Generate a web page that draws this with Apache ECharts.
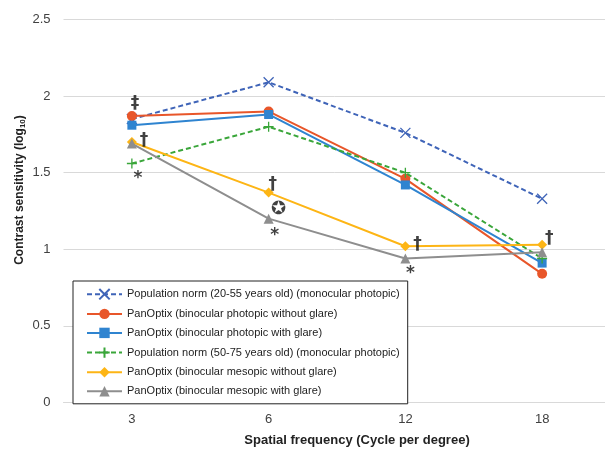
<!DOCTYPE html>
<html>
<head>
<meta charset="utf-8">
<script src="https://cdn.jsdelivr.net/npm/echarts@6/dist/echarts.min.js"></script>
<style>html,body{margin:0;padding:0;background:#fff;}#c{width:605px;height:452px;}</style>
</head>
<body>
<div id="c"></div>
<script>
const categories = ['3', '6', '12', '18'];
const yTicks = [0, 0.5, 1, 1.5, 2, 2.5];

const seriesNames = [
  'Population norm (20-55 years old) (monocular photopic)',
  'PanOptix (binocular photopic without glare)',
  'PanOptix (binocular photopic with glare)',
  'Population norm (50-75 years old) (monocular photopic)',
  'PanOptix (binocular mesopic without glare)',
  'PanOptix (binocular mesopic with glare)'
];
const normYoung = [1.85, 2.09, 1.76, 1.33];
const photopicNoGlare = [1.87, 1.90, 1.46, 0.84];
const photopicGlare = [1.81, 1.88, 1.42, 0.91];
const normOld = [1.56, 1.80, 1.50, 0.94];
const mesopicNoGlare = [1.70, 1.37, 1.02, 1.03];
const mesopicGlare = [1.69, 1.20, 0.94, 0.98];

// annotation marks: [category, value, text]
const annotations = [
  ['3', 1.95, '\u2021'],
  ['3', 1.71, '\u2020'],
  ['3', 1.46, '*'],
  ['6', 1.42, '\u2020'],
  ['6', 1.26, '\u272A'],
  ['6', 1.09, '*'],
  ['12', 1.03, '\u2020'],
  ['12', 0.84, '*'],
  ['18', 1.07, '\u2020']
];
const annotationDx = [3, 12, 6, 4, 10, 6, 12, 5, 7];

const colors = ['#3F64B8', '#E8562A', '#2F84D0', '#3AA63A', '#FDB515', '#8E8E8E'];
const crossPath = 'path://M0,0L10,10M10,0L0,10';
const plusPath = 'path://M5,0L5,10M0,5L10,5';

const defs = [
  {data: normYoung, symbol: crossPath, size: 10, dashed: true, stroke: true},
  {data: photopicNoGlare, symbol: 'circle', size: 10},
  {data: photopicGlare, symbol: 'rect', size: 9},
  {data: normOld, symbol: plusPath, size: 10, dashed: true, stroke: true},
  {data: mesopicNoGlare, symbol: 'diamond', size: 10},
  {data: mesopicGlare, symbol: 'triangle', size: 10}
];

const series = defs.map((d, i) => ({
  name: seriesNames[i],
  type: 'line',
  data: d.data,
  symbol: d.symbol,
  symbolSize: d.size,
  showSymbol: true,
  lineStyle: {color: colors[i], width: 2, type: d.dashed ? [5, 3] : 'solid'},
  itemStyle: d.stroke
    ? {color: colors[i], borderColor: colors[i], borderWidth: 1.3}
    : {color: colors[i], borderWidth: 0},
  z: 3 + i
}));

series.push({
  name: 'annotations',
  type: 'scatter',
  data: annotations.map((a, i) => ({
    value: [a[0], a[1]],
    label: {formatter: a[2], offset: [annotationDx[i], 0],
      fontSize: a[2] === '\u272A' ? 18 : 17}
  })),
  symbolSize: 1,
  itemStyle: {color: 'rgba(0,0,0,0)'},
  label: {show: true, position: 'inside', color: '#111', fontFamily: 'DejaVu Sans', fontWeight: 'bold'},
  silent: true,
  z: 20
});

const chart = echarts.init(document.getElementById('c'), null, {renderer: 'canvas'});
chart.setOption({
  animation: false,
  backgroundColor: '#fff',
  grid: {left: 63.5, width: 547, top: 19.5, bottom: 49.5, outerBoundsMode: 'none', containLabel: false},
  xAxis: {
    type: 'category',
    data: categories,
    boundaryGap: true,
    axisLine: {show: true, lineStyle: {color: '#d9d9d9', width: 1}},
    axisTick: {show: false},
    axisLabel: {color: '#404040', fontSize: 13, fontFamily: 'Liberation Sans', margin: 10}
  },
  yAxis: {
    type: 'value',
    min: yTicks[0],
    max: yTicks[yTicks.length - 1],
    interval: 0.5,
    axisLine: {show: false},
    axisTick: {show: false},
    splitLine: {lineStyle: {color: '#d9d9d9', width: 1}},
    axisLabel: {color: '#404040', fontSize: 13, fontFamily: 'Liberation Sans', margin: 13}
  },
  legend: {
    data: seriesNames,
    orient: 'vertical',
    left: 73,
    top: 281,
    padding: [7, 8, 7, 13],
    itemGap: 8,
    itemWidth: 35,
    itemHeight: 13,
    backgroundColor: '#fff',
    borderColor: '#222',
    borderWidth: 1,
    textStyle: {fontSize: 11, color: '#222', fontFamily: 'Liberation Sans'}
  },
  graphic: [
    {
      type: 'text',
      x: 20, y: 190,
      rotation: Math.PI / 2,
      style: {
        text: '{a|Contrast sensitivity (log}{s|10}{a|)}',
        rich: {
          a: {fontSize: 12, fontWeight: 'bold', fontFamily: 'Liberation Sans', fill: '#222'},
          s: {fontSize: 8, fontWeight: 'bold', fontFamily: 'Liberation Sans', fill: '#222', padding: [6, 0, 0, 0]}
        },
        align: 'center', verticalAlign: 'middle'
      }
    },
    {
      type: 'text',
      x: 357, y: 440,
      style: {
        text: 'Spatial frequency (Cycle per degree)',
        fontSize: 13, fontWeight: 'bold', fontFamily: 'Liberation Sans', fill: '#222',
        align: 'center', verticalAlign: 'middle'
      }
    }
  ],
  series: series
});
</script>
</body>
</html>
